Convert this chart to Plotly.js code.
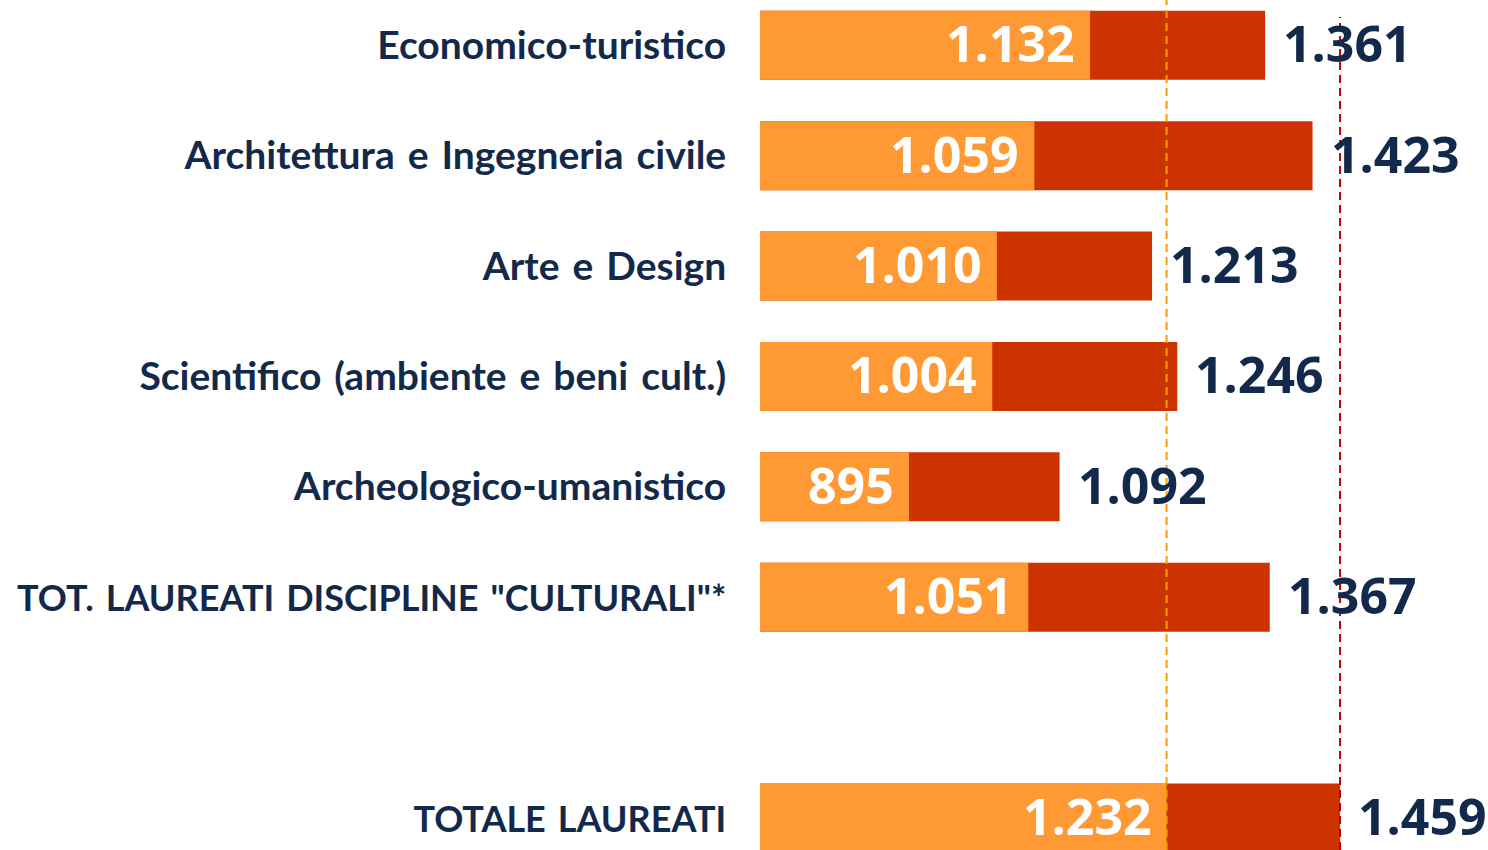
<!DOCTYPE html>
<html><head><meta charset="utf-8">
<script src="https://cdn.plot.ly/plotly-3.0.1.min.js"></script>
<style>html,body{margin:0;padding:0;background:#fff;}#chart{width:1488px;height:850px;}</style>
</head><body><div id="chart"></div>
<script>
const categories = ["Economico-turistico","Architettura e Ingegneria civile","Arte e Design","Scientifico (ambiente e beni cult.)","Archeologico-umanistico","TOT. LAUREATI DISCIPLINE \"CULTURALI\"*","TOTALE LAUREATI"];
const valuesA = [1132,1059,1010,1004,895,1051,1232];
const valuesB = [1361,1423,1213,1246,1092,1367,1459];
const refA = 1232;
const refB = 1459;
const gapAfter = 5; // blank row inserted after this index
const GAP = " ";

const order = categories.slice(0, gapAfter+1).concat([GAP], categories.slice(gapAfter+1));

function fmt(n){ return String(n).replace(/\B(?=(\d{3})+(?!\d))/g, "."); }
function label(c){
  const t = c.replace(/ /g, "\u2004");
  return (c === c.toUpperCase() && c.trim() !== "") ? '<span style="font-size:36px">' + t + '</span>' : t;
}

const navy = "#13294B";
const fontFam = "Lato, 'Open Sans', sans-serif";
const numFam = "'Open Sans', Lato, sans-serif";

const traceB = {type:"bar", orientation:"h", y:categories, x:valuesB, marker:{color:"#CC3300"}, width:0.625, hoverinfo:"skip"};
const traceA = {type:"bar", orientation:"h", y:categories, x:valuesA, marker:{color:"#FF9933"}, width:0.625, hoverinfo:"skip"};

const annotations = [];
categories.forEach((c,i)=>{
  annotations.push({x:valuesA[i], y:c, xref:"x", yref:"y", text:fmt(valuesA[i]), showarrow:false, xanchor:"right", xshift:-13, yshift:2,
    font:{family:numFam, size:50, color:"#ffffff", weight:700}});
  annotations.push({x:valuesB[i], y:c, xref:"x", yref:"y", text:fmt(valuesB[i]), showarrow:false, xanchor:"left", xshift:16, yshift:2,
    font:{family:numFam, size:50, color:navy, weight:700}});
});

const layout = {
  width:1488, height:850,
  margin:{l:760, r:0, t:0, b:0, pad:0},
  paper_bgcolor:"#fff", plot_bgcolor:"#fff",
  barmode:"overlay", showlegend:false,
  xaxis:{range:[700,1652.6], showgrid:false, zeroline:false, showticklabels:false, showline:false, fixedrange:true},
  yaxis:{type:"category", categoryorder:"array", categoryarray:order, range:[7.29,-0.41], showgrid:false, zeroline:false, showline:false,
    tickmode:"array", tickvals:categories, ticktext:categories.map(label),
    ticks:"outside", ticklen:25, tickcolor:"rgba(0,0,0,0)",
    tickfont:{family:fontFam, size:39, color:navy, weight:700}},
  annotations:annotations,
  shapes:[
    {type:"line", layer:"above", xref:"x", yref:"paper", x0:refA, x1:refA, y0:0, y1:1, line:{color:"#FF9900", width:2, dash:"8px,5px"}},
    {type:"line", layer:"above", xref:"x", yref:"paper", x0:refB, x1:refB, y0:0, y1:0.98, line:{color:"#C00000", width:2, dash:"8px,5px"}}
  ]
};
Plotly.newPlot("chart",[traceB,traceA],layout,{displayModeBar:false, staticPlot:true});
</script>
</body></html>
